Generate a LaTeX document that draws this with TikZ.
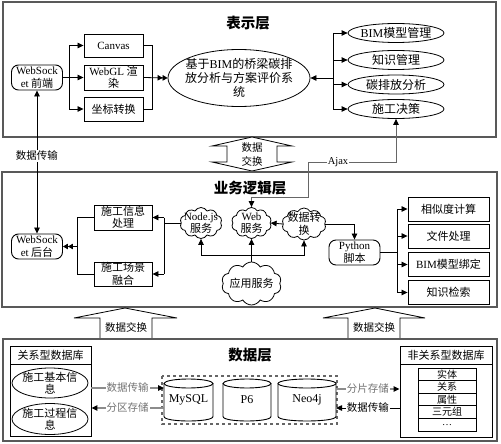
\documentclass[tikz,border=0pt]{standalone}
\usepackage{fontspec}
\setmainfont{Noto Sans CJK SC}
\newfontfamily\lat{Liberation Serif}
\usetikzlibrary{arrows.meta,shapes.geometric,shapes.symbols}
\tikzset{
  panel/.style={draw=black!65, line width=1.3pt},
  ttl/.style={font=\fontsize{14.5}{16}\selectfont\bfseries, inner sep=0pt},
  box/.style={draw, line width=0.9pt, inner sep=0pt, minimum width=59pt, minimum height=24pt, align=center, font=\fontsize{11}{12.5}\selectfont},
  rbox/.style={box, rounded corners=7pt, minimum width=51pt, minimum height=25pt},
  ell/.style={draw, ellipse, line width=0.8pt, inner sep=-8pt, align=center, font=\fontsize{12}{14}\selectfont},
  sell/.style={ell, minimum width=96pt, minimum height=19pt},
  cld/.style={draw, cloud, cloud puffs=10, cloud puff arc=120, inner sep=0pt, line width=0.8pt},
  ctxt/.style={align=center, font=\fontsize{11}{12.5}\selectfont, inner sep=0pt},
  tip/.style={},
  arr/.style={-{Triangle[length=6pt,width=5.5pt,color=black]}, line width=0.8pt},
  arrd/.style={-{Triangle[length=5pt,width=5.5pt,color=black]Triangle[length=5pt,width=5.5pt,color=black]}, line width=0.8pt},
  ln/.style={line width=0.8pt},
  garr/.style={arr, draw=black!45, line width=1.2pt},
  lbl/.style={fill=white, inner sep=1pt, font=\fontsize{10.5}{12}\selectfont},
  blk/.style={draw, line width=0.8pt, fill=white},
  cylst/.style={draw, line width=0.9pt, fill=white},
  ibox/.style={draw, line width=1pt, inner sep=0pt, minimum width=58pt, minimum height=12.6pt, font=\fontsize{10}{11}\selectfont},
}
\begin{document}
\begin{tikzpicture}[x=1pt,y=-1pt]
\useasboundingbox (0,0) rectangle (501,444);
% ---------------- top panel
\draw[panel] (3,2) rectangle (496,137);
\node[ttl] (t1) at (248,23) {表示层};
\node[rbox] (wsf) at (37,77.5) {{\lat WebSock}\\{\lat et} 前端};
\node[box, minimum height=23pt] (canvas) at (113.5,45.5) {\lat Canvas};
\node[box, minimum height=25pt] (webgl) at (113.5,77.5) {{\lat WebGL} 渲\\染};
\node[box] (zb) at (113.5,109) {坐标转换};
\node[ell, minimum width=142pt, minimum height=57pt] (sys) at (239,78) {基于{\lat BIM}的桥梁碳排\\放分析与方案评价系\\统};
\node[sell] (bim) at (396,33) {{\lat BIM}模型管理};
\node[sell] (zs) at (396,60) {知识管理};
\node[sell] (tan) at (396,84.5) {碳排放分析};
\node[sell] (dec) at (396,109) {施工决策};
\coordinate (lv1) at (69,0);
\coordinate (rv1) at (152,0);
\coordinate (rv2) at (333,0);
\draw[ln] (wsf.east) -- (lv1 |- wsf.east);
\draw[ln] (lv1 |- canvas.west) -- (lv1 |- zb.west);
\draw[arr] (lv1 |- canvas.west) -- (canvas.west);
\draw[arr] (lv1 |- webgl.west) -- (webgl.west);
\draw[arr] (lv1 |- zb.west) -- (zb.west);
\draw[ln] (canvas.east) -| (rv1 |- zb.east) -- (zb.east);
\draw[arrd] (webgl.east) -- (sys.west);
\draw[arr] (rv2 |- sys.east) -- (sys.east);
\draw[ln] (rv2 |- bim.west) -- (rv2 |- dec.west);
\draw[arr] (rv2 |- bim.west) -- (bim.west);
\draw[arr] (rv2 |- zs.west) -- (zs.west);
\draw[arr] (rv2 |- tan.west) -- (tan.west);
\draw[arr] (rv2 |- dec.west) -- (dec.west);
% ---------------- exchange double arrow
\draw[blk] (252,137) -- (292,146) -- (277,146) -- (277,162) -- (292,162) -- (252,171) -- (212,162) -- (227,162) -- (227,146) -- (212,146) -- cycle;
\node[align=center, font=\fontsize{10.5}{14}\selectfont, inner sep=0pt] (ex1) at (252,155) {数据\\交换};
% ---------------- middle panel
\draw[panel] (2,172) rectangle (497,307);
\node[ttl] (t2) at (250,188) {业务逻辑层};
\node[rbox] (wsb) at (37,246.5) {{\lat WebSock}\\{\lat et} 后台};
\node[box, minimum width=58pt, minimum height=25pt] (xinfo) at (123,217.5) {施工信息\\处理};
\node[box, minimum width=58pt] (scene) at (123,274) {施工场景\\融合};
\node[cld, minimum width=42pt, minimum height=31pt] (nj) at (201,223) {};
\node[ctxt] (njt) at (201,223) {{\lat Node.js}\\服务};
\node[cld, minimum width=40pt, minimum height=31pt] (web) at (251.5,223) {};
\node[ctxt] (webt) at (251.5,223) {{\lat Web}\\服务};
\node[cld, minimum width=44pt, minimum height=32pt] (dt) at (304,224) {};
\node[ctxt] (dtt) at (304,224) {数据转\\换};
\node[cld, minimum width=60pt, minimum height=43pt] (app) at (251.5,283.5) {};
\node[ctxt] (appt) at (251.5,283.5) {应用服务};
\node[rbox] (py) at (354.5,252.5) {{\lat Python}\\脚本};
\node[box, minimum width=81pt] (s1) at (448.5,209) {相似度计算};
\node[box, minimum width=81pt] (s2) at (448.5,236) {文件处理};
\node[box, minimum width=81pt] (s3) at (448.5,264.5) {{\lat BIM}模型绑定};
\node[box, minimum width=81pt] (s4) at (448.5,292.5) {知识检索};
\coordinate (lv) at (77,0);
\coordinate (rv) at (164,0);
\coordinate (rv3) at (397,0);
\coordinate (hy) at (0,255);
\coordinate (ajy) at (0,162);
\coordinate (ajx) at (308,197);
% left WebSocket link
\draw[{Triangle[length=6pt,width=5.5pt]}-{Triangle[length=6pt,width=5.5pt]}, ln] (wsf.south) -- (wsb.north);
\node[lbl] (dl) at (37,156) {数据传输};
\draw[ln] (xinfo.west) -| (lv |- scene.west) -- (scene.west);
\draw[arrd] (lv |- wsb.east) -- (wsb.east);
\draw[ln] (nj.west) -- (rv |- nj.west);
\draw[ln] (rv |- xinfo.east) -- (rv |- scene.east);
\draw[arr] (rv |- xinfo.east) -- (xinfo.east);
\draw[arr] (rv |- scene.east) -- (scene.east);
\draw[arr] (app.north) -- (web.south);
\draw[arr] (web.south |- hy) -| (nj.south);
\draw[arr] (web.south |- hy) -| (dt.south);
\draw[arr] (dt.west) -- (web.east);
\draw[arr] (dt.east) -| (py.north);
\draw[ln] (py.east) -- (rv3 |- py.east);
\draw[ln] (rv3 |- s1.west) -- (rv3 |- s4.west);
\draw[arr] (rv3 |- s1.west) -- (s1.west);
\draw[arr] (rv3 |- s2.west) -- (s2.west);
\draw[arr] (rv3 |- s3.west) -- (s3.west);
\draw[arr] (rv3 |- s4.west) -- (s4.west);
% Ajax
\draw[{Triangle[length=6pt,width=5.5pt,color=black]}-{Triangle[length=6pt,width=5.5pt,color=black]}, draw=black!60, line width=1pt] (web.north) |- (ajx) |- (dec.south |- ajy) -- (dec.south);
\node[fill=white, inner sep=0.5pt, font=\lat\fontsize{10.5}{12}\selectfont] (ajax) at (338,162) {Ajax};
% ---------------- lower exchange arrows
\draw[blk] (125,308) -- (177,318) -- (152,318) -- (152,339) -- (100,339) -- (100,318) -- (74,318) -- cycle;
\node[font=\fontsize{10.5}{12}\selectfont, inner sep=0pt] (ex2) at (126,327) {数据交换};
\draw[blk] (375,308) -- (425,318) -- (400,318) -- (400,339) -- (348,339) -- (348,318) -- (323,318) -- cycle;
\node[font=\fontsize{10.5}{12}\selectfont, inner sep=0pt] (ex3) at (374,327) {数据交换};
% ---------------- bottom panel
\draw[panel] (3,339) rectangle (497,441);
\node[ttl] (t3) at (250,355) {数据层};
\node[draw, line width=0.9pt, minimum width=81pt, minimum height=90pt, inner sep=0pt] (rel) at (50.5,391) {};
\draw[line width=0.9pt] (10,364) -- (91,364);
\node[font=\fontsize{11}{12}\selectfont, inner sep=0pt] (relt) at (50.5,355) {关系型数据库};
\node[ell, minimum width=76pt, minimum height=30pt, font=\fontsize{11}{12.5}\selectfont] (e1) at (50,383) {施工基本信\\息};
\node[ell, minimum width=76pt, minimum height=31pt, font=\fontsize{11}{12.5}\selectfont] (e2) at (50,419) {施工过程信\\息};
\node[draw, line width=0.9pt, minimum width=92pt, minimum height=91pt, inner sep=0pt] (nrel) at (446,391.5) {};
\draw[line width=0.9pt] (400,364) -- (492,364);
\node[font=\fontsize{11}{12}\selectfont, inner sep=0pt] (nrelt) at (446,355) {非关系型数据库};
\node[ibox] (i1) at (447,374.3) {实体};
\node[ibox] (i2) at (447,386.9) {关系};
\node[ibox] (i3) at (447,399.5) {属性};
\node[ibox] (i4) at (447,412.1) {三元组};
\node[ibox] (i5) at (447,424.7) {\lat\ldots};
% databases
\draw[dashed, draw=black!60, line width=1.2pt] (162,376) rectangle (337,424);
\draw[cylst] (164,383.5) -- (164,416.5) .. controls (164,422.5) and (213,422.5) .. (213,416.5) -- (213,383.5);
\draw[cylst] (188.5,383.5) ellipse [x radius=24.5pt, y radius=4.5pt];
\node[font=\lat\fontsize{12}{14}\selectfont, inner sep=0pt] (mysql) at (188.5,400) {MySQL};
\draw[cylst] (223,383.5) -- (223,416.5) .. controls (223,422.5) and (271,422.5) .. (271,416.5) -- (271,383.5);
\draw[cylst] (247,383.5) ellipse [x radius=24pt, y radius=4.5pt];
\node[font=\lat\fontsize{12}{14}\selectfont, inner sep=0pt] (p6) at (247,400) {P6};
\draw[cylst] (278,383.5) -- (278,416.5) .. controls (278,422.5) and (336,422.5) .. (336,416.5) -- (336,383.5);
\draw[cylst] (307,383.5) ellipse [x radius=29pt, y radius=4.5pt];
\node[font=\lat\fontsize{12}{14}\selectfont, inner sep=0pt] (neo) at (307,400) {Neo4j};
\coordinate (myl1) at (164,388);
\coordinate (myl2) at (164,408);
\coordinate (neo1) at (336,389);
\coordinate (neo2) at (336,408);
\draw[garr] (rel.east |- myl1) -- (myl1) node[midway, lbl, text=black!55] {数据传输};
\draw[garr] (myl2) -- (rel.east |- myl2) node[midway, lbl, text=black!55] {分区存储};
\draw[garr] (neo1) -- (nrel.west |- neo1) node[midway, lbl, text=black!55] {分片存储};
\draw[arr] (nrel.west |- neo2) -- (neo2) node[midway, lbl] {数据传输};
\end{tikzpicture}
\end{document}
